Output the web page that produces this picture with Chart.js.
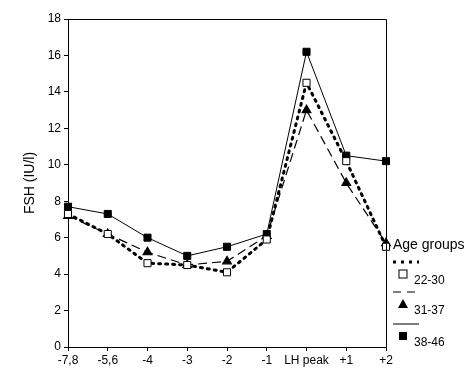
<!DOCTYPE html>
<html>
<head>
<meta charset="utf-8">
<script src="https://cdn.jsdelivr.net/npm/chart.js@4.4.0/dist/chart.umd.min.js"></script>
<style>
  html, body { margin: 0; padding: 0; background: #fff; }
  #wrap { width: 474px; height: 378px; }
</style>
</head>
<body>
<div id="wrap"><canvas id="c" width="474" height="378"></canvas></div>
<script>
const days = ["-7,8", "-5,6", "-4", "-3", "-2", "-1", "LH peak", "+1", "+2"];
const group2230 = [7.3, 6.2, 4.6, 4.5, 4.1, 5.9, 14.5, 10.2, 5.5];
const group3137 = [7.2, 6.2, 5.2, 4.5, 4.7, 6.1, 13.0, 9.0, 5.7];
const group3846 = [7.7, 7.3, 6.0, 5.0, 5.5, 6.2, 16.2, 10.5, 10.2];
const groupNames = ["22-30", "31-37", "38-46"];

const font = "'Liberation Sans', Arial, sans-serif";

// box round the plot + the hand drawn legend on the right
const framePlugin = {
  id: "frame",
  afterDraw(chart) {
    const ctx = chart.ctx;
    const a = chart.chartArea;
    ctx.save();
    ctx.strokeStyle = "#000";
    ctx.lineWidth = 1;
    ctx.beginPath();
    ctx.moveTo(a.left, a.top + 0.5);
    ctx.lineTo(a.right + 0.5, a.top + 0.5);
    ctx.lineTo(a.right + 0.5, a.bottom);
    ctx.stroke();

    const lx = a.right + 7;
    ctx.fillStyle = "#000";
    ctx.font = "14px " + font;
    ctx.textBaseline = "middle";
    ctx.fillText("Age groups", lx, 245);

    const rows = [
      { y: 262, dash: [3, 5], width: 3, marker: "open" },
      { y: 292, dash: [8, 6], width: 1.2, marker: "tri" },
      { y: 324, dash: [], width: 1, marker: "fill" },
    ];
    ctx.font = "12px " + font;
    rows.forEach((r, i) => {
      ctx.save();
      ctx.setLineDash(r.dash);
      ctx.lineWidth = r.width;
      ctx.beginPath();
      ctx.moveTo(lx, r.y);
      ctx.lineTo(lx + 26, r.y);
      ctx.stroke();
      ctx.restore();
      const mx = lx + 10, my = r.y + 12;
      if (r.marker === "open") {
        ctx.lineWidth = 1;
        ctx.strokeRect(mx - 4, my - 4, 8, 8);
      } else if (r.marker === "tri") {
        ctx.beginPath();
        ctx.moveTo(mx, my - 5);
        ctx.lineTo(mx + 5, my + 4);
        ctx.lineTo(mx - 5, my + 4);
        ctx.closePath();
        ctx.fill();
      } else {
        ctx.fillRect(mx - 4, my - 4, 8, 8);
      }
      ctx.fillText(groupNames[i], lx + 21, r.y + 19);
    });
    ctx.restore();
  },
};

new Chart(document.getElementById("c"), {
  type: "line",
  data: {
    labels: days,
    datasets: [
      {
        label: groupNames[0],
        data: group2230,
        borderColor: "#000",
        borderWidth: 3,
        borderDash: [2, 5],
        borderCapStyle: "round",
        pointStyle: "rect",
        pointRadius: 5,
        pointBackgroundColor: "#fff",
        pointBorderColor: "#000",
        pointBorderWidth: 1,
        tension: 0,
      },
      {
        label: groupNames[1],
        data: group3137,
        borderColor: "#000",
        borderWidth: 1.2,
        borderDash: [9, 5],
        pointStyle: "triangle",
        pointRadius: 5,
        pointBackgroundColor: "#000",
        pointBorderColor: "#000",
        tension: 0,
      },
      {
        label: groupNames[2],
        data: group3846,
        borderColor: "#000",
        borderWidth: 1,
        pointStyle: "rect",
        pointRadius: 5,
        pointBackgroundColor: "#000",
        pointBorderColor: "#000",
        tension: 0,
      },
    ],
  },
  options: {
    responsive: false,
    animation: false,
    layout: { padding: { left: 22, right: 88, top: 19, bottom: 0 } },
    plugins: { legend: { display: false }, tooltip: { enabled: false } },
    scales: {
      x: {
        offset: false,
        grid: { drawOnChartArea: false, drawTicks: true, tickLength: 4, color: "#000" },
        border: { color: "#000" },
        ticks: { color: "#000", font: { family: font, size: 12 }, maxRotation: 0, autoSkip: false, padding: 2 },
        afterFit(s) { s.height = 31; },
      },
      y: {
        min: 0,
        max: 18,
        grid: { drawOnChartArea: false, drawTicks: true, tickLength: 4, color: "#000" },
        border: { color: "#000" },
        ticks: { stepSize: 2, color: "#000", font: { family: font, size: 12 }, padding: 3 },
        title: { display: true, text: "FSH (IU/l)", color: "#000", font: { family: font, size: 14 }, padding: 0 },
        afterFit(s) { s.width = 46; },
      },
    },
  },
  plugins: [framePlugin],
});
</script>
</body>
</html>
